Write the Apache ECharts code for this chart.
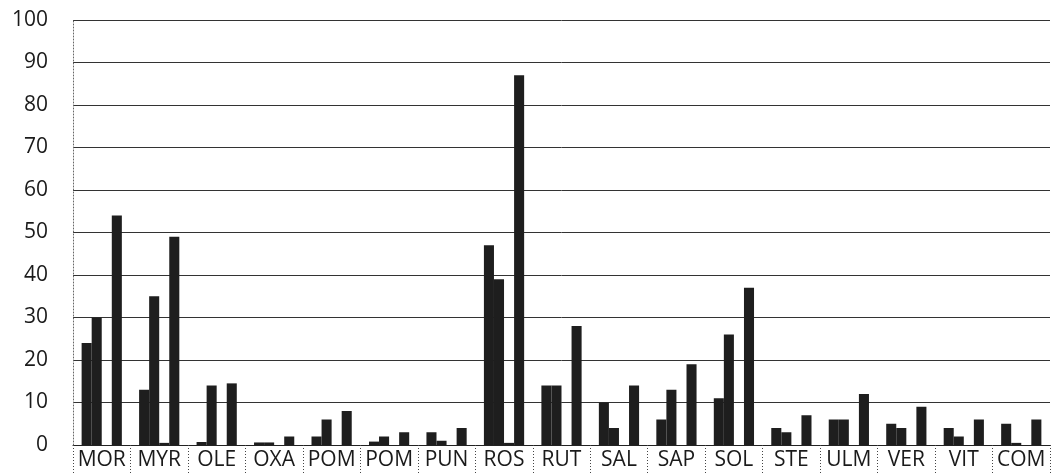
<!DOCTYPE html>
<html>
<head>
<meta charset="utf-8">
<script src="https://cdn.jsdelivr.net/npm/echarts@6/dist/echarts.min.js"></script>
<style>
  html, body { margin: 0; padding: 0; background: #fff; }
  #main { width: 1057px; height: 475px; }
</style>
</head>
<body>
<div id="main"></div>
<script>
// categories along the x axis
const categories = ['MOR', 'MYR', 'OLE', 'OXA', 'POM', 'POM', 'PUN', 'ROS', 'RUT',
  'SAL', 'SAP', 'SOL', 'STE', 'ULM', 'VER', 'VIT', 'COM'];

// four bars per category
const series1 = [24, 13, 0.7, 0.6, 2, 0.8, 3, 47, 14, 10, 6, 11, 4, 6, 5, 4, 5];
const series2 = [30, 35, 14, 0.6, 6, 2, 1, 39, 14, 4, 13, 26, 3, 6, 4, 2, 0.5];
const series3 = [0, 0.5, 0, 0, 0, 0, 0, 0.5, 0, 0, 0, 0, 0, 0, 0, 0, 0];
const series4 = [54, 49, 14.5, 2, 8, 3, 4, 87, 28, 14, 19, 37, 7, 12, 9, 6, 6];

const yTicks = [0, 10, 20, 30, 40, 50, 60, 70, 80, 90, 100];

const barColor = '#1e1e1e';
const mkSeries = (data) => ({
  type: 'bar',
  data: data,
  barGap: '0%',
  barCategoryGap: '30%',
  itemStyle: { color: barColor },
  silent: true
});

var myChart = echarts.init(document.getElementById('main'));
myChart.setOption({
  animation: false,
  grid: { left: 73, right: 7, top: 20, bottom: 30 },
  xAxis: {
    type: 'category',
    data: categories,
    axisLine: { lineStyle: { color: '#222', width: 1 } },
    axisTick: {
      show: true,
      length: 29,
      lineStyle: { color: '#444', type: [1, 2], width: 1 }
    },
    axisLabel: {
      interval: 0,
      color: '#1a1a1a',
      fontFamily: 'Open Sans',
      fontSize: 21,
      margin: 5
    }
  },
  yAxis: {
    type: 'value',
    min: yTicks[0],
    max: yTicks[yTicks.length - 1],
    interval: 10,
    axisLine: { show: true, lineStyle: { color: '#666', type: [1, 2] } },
    axisTick: { show: false },
    axisLabel: {
      color: '#1a1a1a',
      fontFamily: 'Open Sans',
      fontSize: 21,
      margin: 25
    },
    splitLine: { lineStyle: { color: '#333', width: 1 } }
  },
  series: [mkSeries(series1), mkSeries(series2), mkSeries(series3), mkSeries(series4)]
});
</script>
</body>
</html>
